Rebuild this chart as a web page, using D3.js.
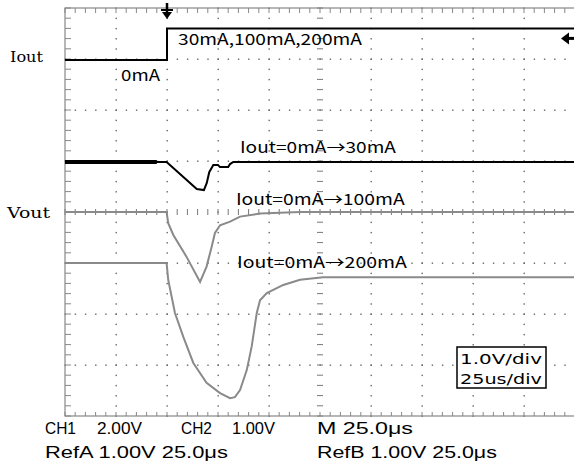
<!DOCTYPE html>
<html><head><meta charset="utf-8">
<script src="https://cdn.jsdelivr.net/npm/d3@7"></script>
<style>html,body{margin:0;padding:0;background:#fff;}svg{display:block;}</style>
</head><body>
<svg id="c" width="574" height="468"></svg>
<script>
// time in microseconds (25 us/div), vertical in divisions (1.0 V/div), centre = 0
const iout = [[0, 2.98], [50, 2.98], [50, 3.6], [250, 3.6]];
const vout30 = [[0, 0.98], [49.8, 0.98], [64.6, 0.45], [68.1, 0.43], [69.5, 0.57], [70.7, 0.78],
  [72.7, 0.92], [75.0, 0.92], [76.0, 0.88], [80.0, 0.88], [80.9, 0.94], [82.5, 0.98], [250, 0.98]];
const vout100 = [[0, 0], [49.8, 0], [50.6, -0.22], [53.1, -0.45], [59.6, -0.88], [66.2, -1.37],
  [69.4, -1.07], [71.9, -0.68], [73.5, -0.41], [76.0, -0.26], [80.9, -0.19], [85.8, -0.09],
  [95.6, -0.03], [115.2, 0], [250, 0]];
const vout200 = [[0, -1.0], [49.8, -1.0], [50.6, -1.33], [53.9, -1.98], [58.0, -2.45], [62.9, -2.96],
  [69.4, -3.35], [76.0, -3.55], [80.9, -3.65], [83.3, -3.63], [85.8, -3.49], [89.1, -3.10],
  [91.5, -2.64], [94.0, -1.98], [95.6, -1.73], [98.9, -1.59], [107.0, -1.43], [115.2, -1.33],
  [126.5, -1.28], [250, -1.28]];
const traceLabels = [
  {text: "30mA,100mA,200mA", t: 55.4, v: 3.28, w: 184},
  {text: "0mA", t: 27.5, v: 2.57, w: 39},
  {text: "Iout=0mA\u219230mA", t: 85.8, v: 1.16, w: 156},
  {text: "Iout=0mA\u2192100mA", t: 83.8, v: 0.14, w: 169},
  {text: "Iout=0mA\u2192200mA", t: 84.3, v: -1.10, w: 170}
];
const channelLabels = [{text: "Iout", v: 2.94, x: 10, w: 33}, {text: "Vout", v: -0.12, x: 7, w: 43}];
const scaleText = ["1.0V/div", "25us/div"];
const statusText = [
  {text: "CH1", x: 45, y: 434, w: 31}, {text: "2.00V", x: 97, y: 434, w: 45},
  {text: "CH2", x: 181, y: 434, w: 31}, {text: "1.00V", x: 232, y: 434, w: 43},
  {text: "M 25.0\u03bcs", x: 317, y: 434, w: 96},
  {text: "RefA 1.00V 25.0\u03bcs", x: 45, y: 458, w: 183},
  {text: "RefB 1.00V 25.0\u03bcs", x: 317, y: 458, w: 180}
];

const svg = d3.select("#c");
const x = d3.scaleLinear().domain([0, 250]).range([65, 575]);
const y = d3.scaleLinear().domain([-4, 4]).range([416, 8]);
const majorT = d3.range(0, 251, 25), majorV = d3.range(-4, 4.01, 1);
const minorT = d3.range(0, 250.01, 5), minorV = d3.range(-4, 4.01, 0.2);

// text fitted to a width by horizontal scaling only
function fitText(sel, px, py, w) {
  sel.each(function (d, i) {
    const t = d3.select(this);
    const len = this.getComputedTextLength();
    const s = w(d, i) / len;
    t.attr("x", 0).attr("y", 0)
      .attr("transform", `translate(${px(d, i)},${py(d, i)}) scale(${s},1)`);
  });
}

const g = svg.append("g");
majorV.filter(v => v > -4 && v < 4 && v !== 0).forEach(v => {
  g.selectAll(null).data(minorT).enter().append("rect")
    .attr("x", d => x(d) - 0.5).attr("y", y(v) - 0.5).attr("width", 1.4).attr("height", 1.4).attr("fill", "#666");
});
majorT.filter(t => t > 0 && t < 250 && t !== 125).forEach(t => {
  g.selectAll(null).data(minorV).enter().append("rect")
    .attr("x", x(t) - 0.5).attr("y", d => y(d) - 0.5).attr("width", 1.4).attr("height", 1.4).attr("fill", "#666");
});
g.selectAll(null).data(minorV).enter().append("line")
  .attr("x1", x(125) - 3).attr("x2", x(125) + 3).attr("y1", d => y(d)).attr("y2", d => y(d))
  .attr("stroke", "#777").attr("stroke-width", 1);
g.selectAll(null).data(minorT).enter().append("line")
  .attr("x1", d => x(d)).attr("x2", d => x(d)).attr("y1", y(0) - 3).attr("y2", y(0) + 3)
  .attr("stroke", "#777").attr("stroke-width", 1);
g.append("rect").attr("x", x(0)).attr("y", y(4)).attr("width", x(250) - x(0)).attr("height", y(-4) - y(4))
  .attr("fill", "none").attr("stroke", "#888").attr("stroke-width", 1.2);
g.selectAll(null).data(minorV).enter().append("line")
  .attr("x1", x(0)).attr("x2", x(0) + 6).attr("y1", d => y(d)).attr("y2", d => y(d)).attr("stroke", "#888");
g.selectAll(null).data(minorT).enter().append("line")
  .attr("x1", d => x(d)).attr("x2", d => x(d)).attr("y1", y(4)).attr("y2", y(4) + 5).attr("stroke", "#888");
g.selectAll(null).data(minorT).enter().append("line")
  .attr("x1", d => x(d)).attr("x2", d => x(d)).attr("y1", y(-4)).attr("y2", y(-4) - 4).attr("stroke", "#888");

const line = d3.line().x(d => x(d[0])).y(d => y(d[1]));
svg.append("path").datum(vout200).attr("d", line).attr("fill", "none").attr("stroke", "#8a8a8a").attr("stroke-width", 2);
svg.append("path").datum(vout100).attr("d", line).attr("fill", "none").attr("stroke", "#8a8a8a").attr("stroke-width", 2);
svg.append("path").datum(vout30).attr("d", line).attr("fill", "none").attr("stroke", "#000").attr("stroke-width", 2);
svg.append("path").datum(vout30.slice(0, 2).map((d, i) => i ? [45, d[1]] : d)).attr("d", line)
  .attr("fill", "none").attr("stroke", "#000").attr("stroke-width", 4);
svg.append("path").datum(iout).attr("d", line).attr("fill", "none").attr("stroke", "#000").attr("stroke-width", 2);

// trigger marker (top) and level marker (right)
const tx = x(iout[1][0]);
svg.append("line").attr("x1", tx).attr("x2", tx).attr("y1", 3).attr("y2", 14).attr("stroke", "#000").attr("stroke-width", 2.5);
svg.append("line").attr("x1", tx - 6).attr("x2", tx + 6).attr("y1", 10).attr("y2", 10).attr("stroke", "#000").attr("stroke-width", 2);
svg.append("path").attr("d", `M${tx - 5},12 L${tx + 5},12 L${tx},19 Z`).attr("fill", "#000");
const ly = y(iout[2][1]) + 10;
svg.append("path").attr("d", `M561,${ly} L569,${ly - 6} L569,${ly + 6} Z`).attr("fill", "#000");
svg.append("line").attr("x1", 566).attr("x2", 575).attr("y1", ly).attr("y2", ly).attr("stroke", "#000").attr("stroke-width", 3);

const lblFont = "'Noto Sans CJK JP', 'DejaVu Sans', sans-serif";
svg.selectAll(null).data(traceLabels).enter().append("text").text(d => d.text)
  .attr("font-family", lblFont).attr("font-size", 15.5).attr("fill", "#000")
  .call(fitText, d => x(d.t), d => y(d.v), d => d.w);
svg.selectAll(null).data(channelLabels).enter().append("text").text(d => d.text)
  .attr("font-family", "'DejaVu Serif', serif").attr("font-size", 15).attr("fill", "#000")
  .call(fitText, d => d.x, d => y(d.v), d => d.w);

svg.append("rect").attr("x", 457).attr("y", 347).attr("width", 89).attr("height", 41)
  .attr("fill", "#fff").attr("stroke", "#000").attr("stroke-width", 1.5);
svg.selectAll(null).data(scaleText).enter().append("text").text(d => d)
  .attr("font-family", "'DejaVu Sans', sans-serif").attr("font-size", 14.5).attr("fill", "#000")
  .call(fitText, () => 460, (d, i) => 364 + i * 20, () => 82);

svg.selectAll(null).data(statusText).enter().append("text").text(d => d.text)
  .attr("font-family", "'Liberation Sans Narrow', 'Liberation Sans', sans-serif").attr("font-size", 16).attr("fill", "#000")
  .call(fitText, d => d.x, d => d.y, d => d.w);
</script>
</body></html>
